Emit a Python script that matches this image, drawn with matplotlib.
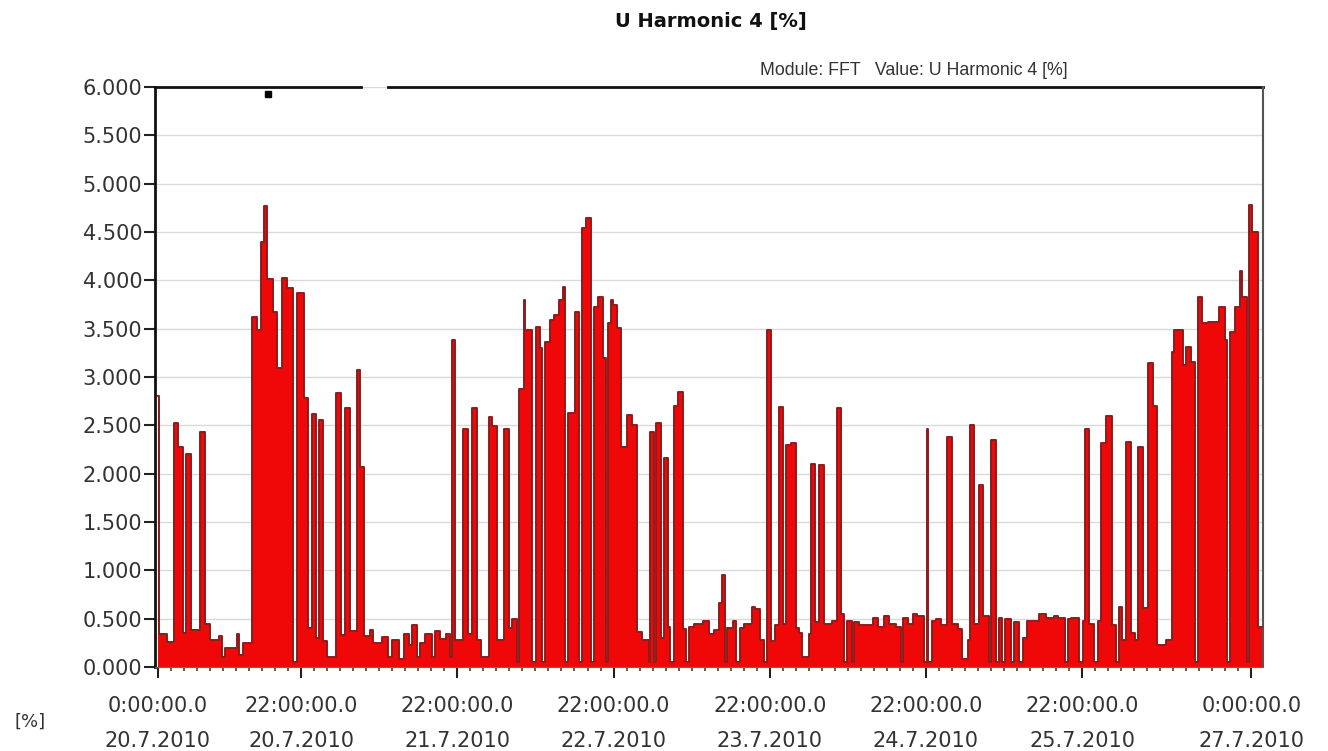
import numpy as np
import matplotlib.pyplot as plt
from matplotlib.ticker import MultipleLocator

title = 'U Harmonic 4 [%]'
info = 'Module: FFT   Value: U Harmonic 4 [%]'

# hours after 20.7.2010 0:00 at which each measured level starts
step_hours = [
    0.0, 0.2, 1.4, 2.5, 3.1, 3.9, 4.3, 5.0, 6.5, 7.2, 8.0, 9.3, 9.8, 10.3,
    12.1, 12.4, 13.1, 14.4, 15.2, 15.9, 16.3, 16.8, 17.7, 18.3, 19.1, 19.8,
    20.7, 21.4, 22.4, 23.1, 23.6,
    24.3, 24.8, 25.4, 25.9, 27.3, 28.1, 28.8, 29.5, 30.6, 31.1, 31.6, 32.6,
    33.1, 34.4, 35.4, 35.9, 37.0, 37.8, 38.5, 39.1, 39.8, 40.3, 41.1, 42.1,
    42.6, 43.4, 44.2, 44.8, 45.2, 45.7, 46.8, 47.6,
    48.2, 49.0, 49.7, 50.8, 51.4, 52.1, 53.1, 53.9, 54.4, 55.1, 55.5, 56.2,
    56.4, 57.5, 58.1, 58.7, 59.0, 59.5, 60.3, 60.8, 61.6, 62.2, 62.6, 63.0,
    64.1, 64.7, 65.1, 65.8, 66.5, 67.0, 67.6, 68.4, 68.8, 69.1, 69.6, 69.9,
    70.5, 71.2,
    72.1, 72.9, 73.6, 74.4, 75.4, 75.6, 76.2, 76.6, 77.3, 77.7, 78.3, 78.7,
    79.3, 79.9, 80.6, 81.2, 81.6, 82.3, 83.8, 84.6, 85.4, 86.2, 86.6, 87.1,
    87.5, 88.3, 88.8, 89.5, 90.1, 91.3, 91.8, 92.5, 93.1, 93.6, 94.2, 94.8,
    95.4,
    96.1, 96.5, 97.3, 98.0, 98.5, 99.0, 100.0, 100.3, 100.9, 101.6, 102.3,
    103.5, 104.4, 104.9, 105.4, 105.8, 106.6, 106.9, 107.7, 109.8, 110.6,
    111.6, 112.4, 113.4, 114.2, 114.5, 115.2, 116.0, 116.7, 117.7, 118.1,
    118.3, 119.0,
    119.5, 120.3, 121.3, 122.0, 122.9, 123.6, 124.4, 124.7, 125.4, 126.2,
    126.8, 127.7, 128.0, 128.7, 129.2, 129.7, 130.2, 131.0, 131.5, 132.3,
    132.9, 133.6, 135.4, 136.5, 137.7, 138.3, 139.3, 139.8, 140.3, 141.6,
    142.1, 142.5, 143.1,
    143.9, 144.4, 144.9, 145.7, 146.6, 147.2, 147.7, 148.2, 148.8, 149.5,
    150.1, 150.6, 151.3, 152.1, 152.9, 153.5, 154.9, 155.8, 156.2, 157.5,
    157.9, 158.7, 159.3, 159.8, 160.5, 161.3, 163.1, 163.9, 164.3, 164.8,
    165.5, 166.2, 166.6, 167.4, 167.6, 168.1, 169.0,
]
step_values = [
    2.80, 0.34, 0.26, 2.52, 2.28, 0.35, 2.20, 0.38, 2.43, 0.45, 0.28, 0.32, 0.10, 0.20,
    0.34, 0.12, 0.25, 3.62, 3.49, 4.40, 4.77, 4.01, 3.67, 3.09, 4.02, 3.92,
    0.05, 3.87, 2.78, 0.40, 2.62,
    0.30, 2.56, 0.27, 0.10, 2.83, 0.33, 2.68, 0.37, 3.07, 2.07, 0.32, 0.38,
    0.25, 0.31, 0.10, 0.28, 0.08, 0.34, 0.23, 0.43, 0.10, 0.25, 0.34, 0.10,
    0.37, 0.29, 0.34, 0.10, 3.38, 0.28, 2.46, 0.34,
    2.68, 0.28, 0.10, 2.59, 2.49, 0.28, 2.46, 0.40, 0.50, 0.05, 2.88, 3.80,
    3.49, 0.05, 3.52, 3.30, 0.05, 3.36, 3.59, 3.64, 3.80, 3.93, 0.05, 2.63,
    3.67, 0.05, 4.54, 4.64, 0.05, 3.72, 3.83, 3.20, 0.05, 3.56, 3.80, 3.74,
    3.51, 2.28,
    2.61, 2.50, 0.36, 0.28, 0.05, 2.43, 0.05, 2.52, 0.30, 2.16, 0.41, 0.05,
    2.70, 2.85, 0.39, 0.05, 0.41, 0.45, 0.48, 0.34, 0.38, 0.66, 0.95, 0.05,
    0.40, 0.48, 0.05, 0.40, 0.45, 0.62, 0.60, 0.28, 0.05, 3.49, 0.27, 0.43,
    2.69,
    0.45, 2.30, 2.32, 0.40, 0.35, 0.10, 0.34, 2.10, 0.47, 2.09, 0.45,
    0.48, 2.68, 0.55, 0.05, 0.48, 0.05, 0.47, 0.43, 0.51, 0.41,
    0.53, 0.45, 0.41, 0.05, 0.51, 0.45, 0.55, 0.53, 0.05, 2.46,
    0.05, 0.48,
    0.50, 0.43, 2.38, 0.45, 0.39, 0.08, 0.28, 2.50, 0.45, 1.88,
    0.53, 0.05, 2.35, 0.05, 0.51, 0.05, 0.50, 0.05, 0.47, 0.05,
    0.30, 0.48, 0.55, 0.51, 0.53, 0.51, 0.05, 0.50, 0.51, 0.05,
    0.48, 2.46, 0.45,
    0.05, 0.48, 2.32, 2.60, 0.43, 0.05, 0.62, 0.28, 2.33, 0.35,
    0.28, 2.28, 0.61, 3.14, 2.70, 0.23, 0.28, 3.26, 3.49, 3.12,
    3.31, 3.16, 0.05, 3.83, 3.56, 3.57, 3.72, 3.38, 0.05, 3.47,
    3.72, 4.10, 3.83, 0.05, 4.78, 4.50, 0.41,
]
end_hour = 170.0

tick_hours = [0, 22, 46, 70, 94, 118, 142, 168]
tick_labels = [
    '0:00:00.0\n20.7.2010',
    '22:00:00.0\n20.7.2010',
    '22:00:00.0\n21.7.2010',
    '22:00:00.0\n22.7.2010',
    '22:00:00.0\n23.7.2010',
    '22:00:00.0\n24.7.2010',
    '22:00:00.0\n25.7.2010',
    '0:00:00.0\n27.7.2010',
]
y_ticks = [0.0, 0.5, 1.0, 1.5, 2.0, 2.5, 3.0, 3.5, 4.0, 4.5, 5.0, 5.5, 6.0]

fill_color = '#f00808'
edge_color = '#8e1c1c'
text_color = '#333333'

fig = plt.figure(figsize=(13.28, 7.51), dpi=100)
ax = fig.add_axes([155 / 1328, 1 - 667 / 751, 1108 / 1328, 580 / 751])

x = np.array(step_hours + [end_hour])
y = np.array(step_values + [step_values[-1]])
ax.fill_between(x, y, step='post', color=fill_color, lw=0, zorder=2)
ax.step(x, y, where='post', color=edge_color, lw=1.4, zorder=3)

ax.set_xlim(-0.46, 169.8)
ax.set_ylim(0, 6)

ax.set_yticks(y_ticks)
ax.set_yticklabels([f'{v:.3f}' for v in y_ticks])
ax.set_xticks(tick_hours)
ax.set_xticklabels(tick_labels, linespacing=1.95)
ax.xaxis.set_minor_locator(MultipleLocator(2))

ax.tick_params(axis='y', length=8, width=1.5, color='#222222', pad=1,
               labelsize=15, labelcolor=text_color)
ax.tick_params(axis='x', which='major', length=8, width=1.5, color='#222222',
               pad=13, labelsize=15, labelcolor=text_color)
ax.tick_params(axis='x', which='minor', length=3, width=1.2, color='#444444')

ax.set_axisbelow(True)
ax.yaxis.grid(True, color='#d9d9d9', lw=1)

ax.spines['left'].set_linewidth(2)
ax.spines['left'].set_color('#111111')
ax.spines['bottom'].set_color('#666666')
ax.spines['right'].set_color('#555555')
ax.spines['right'].set_linewidth(1.5)
ax.spines['top'].set_visible(False)
# top frame line has a short break near the left
ax.axhline(6, xmin=0, xmax=0.186, color='#111111', lw=2, clip_on=False)
ax.axhline(6, xmin=0.21, xmax=1, color='#111111', lw=2, clip_on=False)
ax.plot([0.102], [0.988], marker='s', ms=4, color='black',
        transform=ax.transAxes, clip_on=False)

fig.text(0.535, 0.971, title, ha='center', va='center',
         fontsize=14, fontweight='bold', color='#111111')
fig.text(0.688, 0.906, info, ha='center', va='center',
         fontsize=12.8, family='Liberation Sans', color=text_color)
fig.text(0.011, 0.039, '[%]', ha='left', va='center',
         fontsize=13, color=text_color)

fig.savefig('out.png', dpi=100)
